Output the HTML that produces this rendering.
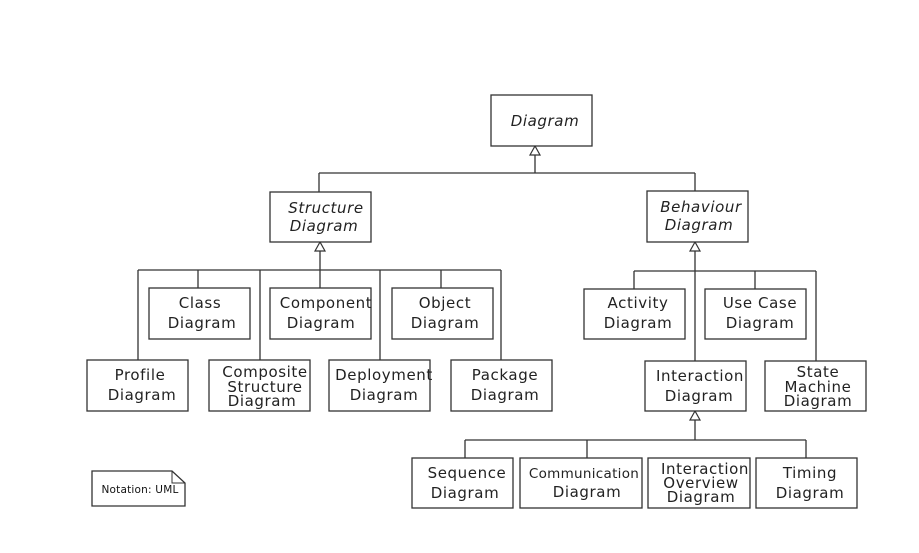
<!DOCTYPE html>
<html><head><meta charset="utf-8"><style>
html,body{margin:0;padding:0;background:#fff;}
svg{display:block;}
text{font-family:"DejaVu Sans","Liberation Sans",sans-serif;font-size:15px;fill:#222;text-anchor:middle;letter-spacing:0.6px;}
.i{font-style:italic;}
.r{fill:#fff;stroke:#333;stroke-width:1.3;}
.l{stroke:#333;stroke-width:1.3;fill:none;}
.t{fill:#fff;stroke:#333;stroke-width:1.2;}
</style></head><body>
<svg width="919" height="553" viewBox="0 0 919 553" xmlns="http://www.w3.org/2000/svg">
<path class="l" d="M535 155V173M319 173H695M319 173V192M695 173V191"/>
<path class="l" d="M320 251V288M138 270H501M138 270V360M198 270V288M260 270V360M380 270V360M441 270V288M501 270V360"/>
<path class="l" d="M695 251V361M634 271H816M634 271V289M755 271V289M816 271V361"/>
<path class="l" d="M695 420V440M465 440H806M465 440V458M587 440V458M806 440V458"/>
<polygon class="t" points="535,146 530,155 540,155"/>
<polygon class="t" points="320,242 315,251 325,251"/>
<polygon class="t" points="695,242 690,251 700,251"/>
<polygon class="t" points="695,411 690,420 700,420"/>
<rect class="r" x="491" y="95" width="101" height="51"/>
<text class="i" x="545" y="126">Diagram</text>
<rect class="r" x="270" y="192" width="101" height="50"/>
<text class="i" x="326" y="213">Structure</text><text class="i" x="324" y="231">Diagram</text>
<rect class="r" x="647" y="191" width="101" height="51"/>
<text class="i" x="701" y="212">Behaviour</text><text class="i" x="699" y="230">Diagram</text>
<rect class="r" x="149" y="288" width="101" height="51"/>
<text x="200" y="308">Class</text><text x="202" y="328">Diagram</text>
<rect class="r" x="270" y="288" width="101" height="51"/>
<text x="326" y="308">Component</text><text x="321" y="328">Diagram</text>
<rect class="r" x="392" y="288" width="101" height="51"/>
<text x="445" y="308">Object</text><text x="445" y="328">Diagram</text>
<rect class="r" x="87" y="360" width="101" height="51"/>
<text x="140" y="380">Profile</text><text x="142" y="400">Diagram</text>
<rect class="r" x="209" y="360" width="101" height="51"/>
<text x="265" y="377">Composite</text><text x="265" y="392">Structure</text><text x="262" y="406">Diagram</text>
<rect class="r" x="329" y="360" width="101" height="51"/>
<text x="384" y="380">Deployment</text><text x="384" y="400">Diagram</text>
<rect class="r" x="451" y="360" width="101" height="51"/>
<text x="505" y="380">Package</text><text x="505" y="400">Diagram</text>
<rect class="r" x="584" y="289" width="101" height="50"/>
<text x="638" y="308">Activity</text><text x="638" y="328">Diagram</text>
<rect class="r" x="705" y="289" width="101" height="50"/>
<text x="760" y="308">Use Case</text><text x="760" y="328">Diagram</text>
<rect class="r" x="645" y="361" width="101" height="50"/>
<text x="700" y="381">Interaction</text><text x="699" y="401">Diagram</text>
<rect class="r" x="765" y="361" width="101" height="50"/>
<text x="818" y="377">State</text><text x="818" y="392">Machine</text><text x="818" y="406">Diagram</text>
<rect class="r" x="412" y="458" width="101" height="50"/>
<text x="467" y="478">Sequence</text><text x="465" y="498">Diagram</text>
<rect class="r" x="520" y="458" width="122" height="50"/>
<text x="584" y="478" style="font-size:13.5px;letter-spacing:0.3px">Communication</text><text x="587" y="497">Diagram</text>
<rect class="r" x="648" y="458" width="102" height="50"/>
<text x="705" y="474">Interaction</text><text x="701" y="488">Overview</text><text x="701" y="502">Diagram</text>
<rect class="r" x="756" y="458" width="101" height="50"/>
<text x="810" y="478">Timing</text><text x="810" y="498">Diagram</text>
<path class="r" d="M92 471H172L185 483V506H92Z"/>
<path class="l" d="M172 471V483H185" style="stroke-width:1"/>
<text x="140" y="493" style="font-size:10.5px;letter-spacing:0.2px;fill:#111">Notation: UML</text>
</svg>
</body></html>
